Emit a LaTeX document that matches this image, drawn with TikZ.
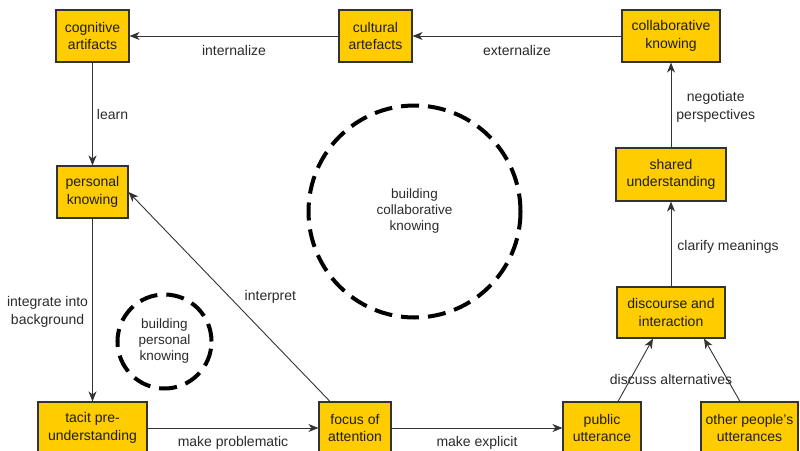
\documentclass[tikz,border=0pt]{standalone}
\usepackage{fontspec}
\setmainfont{Liberation Sans}
\usetikzlibrary{arrows.meta}
\definecolor{boxfill}{HTML}{FFCC00}
\definecolor{boxline}{HTML}{333333}
\definecolor{txt}{HTML}{1E1E1E}
\definecolor{lbltxt}{HTML}{2A2A2A}
\tikzset{
  box/.style={draw=boxline, line width=1.1pt, fill=boxfill, text=txt, align=center,
    inner sep=0pt, font=\fontsize{14}{17.5}\selectfont},
  arr/.style={draw=boxline, line width=0.9pt, -{Stealth[length=10pt,width=8pt,inset=3pt]}},
  conn/.style={draw=boxline, line width=0.9pt},
  lbl/.style={text=lbltxt, align=center, inner sep=0pt, font=\fontsize{14}{17.5}\selectfont},
  ring/.style={draw=black, line width=4pt, dash pattern=on 18pt off 9pt, circle, inner sep=0pt,
    text=lbltxt, align=center, font=\fontsize{13.5}{16}\selectfont}
}
\begin{document}
\begin{tikzpicture}[x=1pt,y=-1pt]
\useasboundingbox (0,0) rectangle (800,450);
\clip (0,0) rectangle (800,450);
% boxes
\node[box, minimum width=73, minimum height=52] (cog) at (92.5,36) {cognitive\\artifacts};
\node[box, minimum width=73, minimum height=52] (cult) at (375.5,36) {cultural\\artefacts};
\node[box, minimum width=98, minimum height=52] (collab) at (671,36) {collaborative\\knowing};
\node[box, minimum width=71, minimum height=52] (pers) at (92.5,192) {personal\\knowing};
\node[box, minimum width=109, minimum height=52] (tacit) at (92.5,428) {tacit pre-\\understanding};
\node[box, minimum width=72, minimum height=52] (focus) at (355,428) {focus of\\attention};
\node[box, minimum width=78, minimum height=52] (pub) at (602,428) {public\\utterance};
\node[box, minimum width=97, minimum height=52] (other) at (749.5,428) {other people's\\utterances};
\node[box, minimum width=108, minimum height=51] (disc) at (671,312.5) {discourse and\\interaction};
\node[box, minimum width=110, minimum height=53] (shared) at (671,174.5) {shared\\understanding};
% circles
\node[ring, minimum size=212] (bck) at (414.5,211.5) {building\\collaborative\\knowing};
\node[ring, minimum size=94] (bpk) at (164.5,341.5) {building\\personal\\knowing};
% connectors
\draw[arr] (collab) -- node[lbl, anchor=base, yshift=-19pt] {externalize} (cult);
\draw[arr] (cult) -- node[lbl, anchor=base, yshift=-19pt] {internalize} (cog);
\draw[arr] (cog) -- node[lbl, anchor=west, xshift=4pt] {learn} (pers);
\draw[arr] (pers) -- node[lbl, anchor=east, xshift=-4pt, yshift=-2pt] {integrate into\\background} (tacit);
\draw[arr] (tacit) -- node[lbl, anchor=base, yshift=-18pt] {make problematic} (focus);
\draw[arr] (focus) -- node[lbl, anchor=base, yshift=-18pt] {make explicit} (pub);
\draw[arr] ([xshift=-25pt]focus.north) -- node[lbl, anchor=west, xshift=15pt] {interpret} (pers.east);
\draw[arr] ([xshift=16pt]pub.north) -- ([xshift=-18pt]disc.south);
\draw[arr] ([xshift=-9.5pt]other.north) -- ([xshift=33pt]disc.south);
\node[lbl] (disclbl) at (671,379) {discuss alternatives};
\draw[arr] (disc) -- node[lbl, anchor=west, xshift=6pt, yshift=-3pt] {clarify meanings} (shared);
\draw[arr] (shared) -- node[lbl, anchor=west, xshift=5pt, yshift=-2pt] {negotiate\\perspectives} (collab);
\end{tikzpicture}
\end{document}
